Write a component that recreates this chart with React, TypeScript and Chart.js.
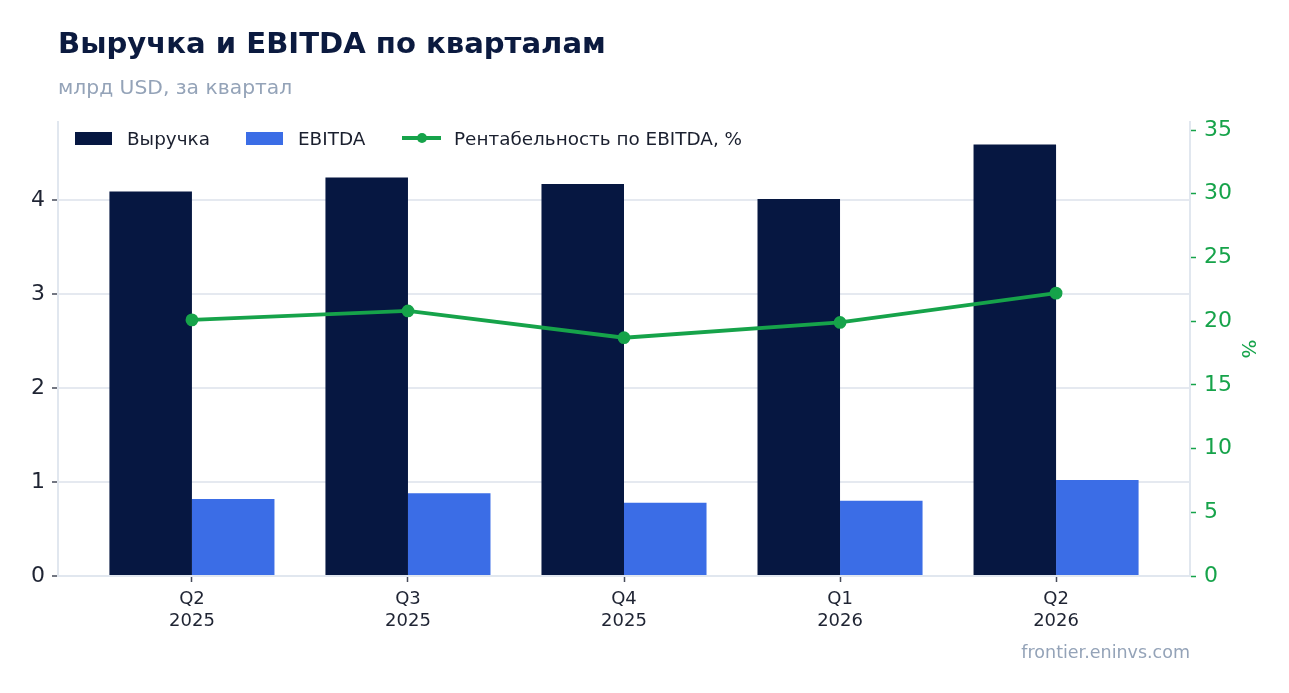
import React, { useEffect, useRef } from 'react';
import { Chart, registerables, ChartConfiguration } from 'chart.js';

Chart.register(...registerables);

const quarters: string[][] = [
    ['Q2', '2025'],
    ['Q3', '2025'],
    ['Q4', '2025'],
    ['Q1', '2026'],
    ['Q2', '2026'],
];
const revenue: number[] = [4.09, 4.24, 4.17, 4.01, 4.59];
const ebitda: number[] = [0.82, 0.88, 0.78, 0.8, 1.02];
const margin: number[] = [20.1, 20.8, 18.7, 19.9, 22.2];

const NAVY = '#061741';
const BLUE = '#3b6de6';
const GREEN = '#16a34a';
const FONT = "'DejaVu Sans', sans-serif";

const App: React.FC = () => {
    const chartRef = useRef<HTMLCanvasElement | null>(null);
    const chartInstance = useRef<Chart | null>(null);

    useEffect(() => {
        if (!chartRef.current) return;
        const ctx = chartRef.current.getContext('2d');
        if (!ctx) return;

        if (chartInstance.current) {
            chartInstance.current.destroy();
        }

        const config: ChartConfiguration = {
            type: 'bar',
            data: {
                datasets: [
                    {
                        type: 'line',
                        label: 'Рентабельность по EBITDA, %',
                        data: margin.map((v, i) => ({ x: i, y: v })),
                        yAxisID: 'y1',
                        borderColor: GREEN,
                        backgroundColor: GREEN,
                        borderWidth: 3.8,
                        pointRadius: 4.5,
                        pointHoverRadius: 4.5,
                        tension: 0,
                        order: 0,
                    },
                    {
                        type: 'bar',
                        label: 'Выручка',
                        data: revenue.map((v, i) => ({ x: i, y: v })),
                        yAxisID: 'y',
                        backgroundColor: NAVY,
                        borderWidth: 0,
                        categoryPercentage: 0.764,
                        barPercentage: 1,
                        order: 1,
                    },
                    {
                        type: 'bar',
                        label: 'EBITDA',
                        data: ebitda.map((v, i) => ({ x: i, y: v })),
                        yAxisID: 'y',
                        backgroundColor: BLUE,
                        borderWidth: 0,
                        categoryPercentage: 0.764,
                        barPercentage: 1,
                        order: 1,
                    },
                ] as any,
            },
            options: {
                animation: false,
                responsive: false,
                maintainAspectRatio: false,
                layout: { padding: { left: 0, top: 122, right: 0, bottom: 0 } },
                plugins: {
                    legend: { display: false },
                    tooltip: { enabled: false },
                },
                scales: {
                    x: {
                        type: 'linear',
                        min: -0.62,
                        max: 4.62,
                        offset: false,
                        afterBuildTicks: (scale: any) => {
                            scale.ticks = quarters.map((_, i) => ({ value: i }));
                        },
                        afterFit: (scale: any) => {
                            scale.height = 117;
                        },
                        ticks: {
                            callback: (value: any) => quarters[Number(value)] ?? '',
                            color: '#1f2433',
                            font: { family: FONT, size: 18, lineHeight: 1.22 },
                            padding: 6,
                            maxRotation: 0,
                        },
                        grid: {
                            offset: false,
                            drawOnChartArea: false,
                            drawTicks: true,
                            tickLength: 6,
                            tickColor: '#454a58',
                            tickWidth: 1.5,
                        },
                        border: { display: true, color: '#e1e7ef', width: 2 },
                    },
                    y: {
                        type: 'linear',
                        position: 'left',
                        min: 0,
                        max: 4.83,
                        afterFit: (scale: any) => {
                            scale.width = 58;
                        },
                        ticks: {
                            stepSize: 1,
                            includeBounds: false,
                            color: '#1f2433',
                            font: { family: FONT, size: 22 },
                            padding: 7,
                        },
                        grid: {
                            color: '#e5e9f0',
                            lineWidth: 2,
                            drawTicks: true,
                            tickLength: 6,
                            tickColor: '#454a58',
                            tickWidth: 1.5,
                        },
                        border: { display: true, color: '#e1e7ef', width: 2 },
                    },
                    y1: {
                        type: 'linear',
                        position: 'right',
                        min: 0,
                        max: 35.63,
                        afterFit: (scale: any) => {
                            scale.width = 99;
                        },
                        ticks: {
                            stepSize: 5,
                            includeBounds: false,
                            color: GREEN,
                            font: { family: FONT, size: 22 },
                            padding: 8,
                        },
                        grid: {
                            drawOnChartArea: false,
                            drawTicks: true,
                            tickLength: 6,
                            tickColor: GREEN,
                            tickWidth: 1.5,
                        },
                        border: { display: true, color: '#e1e7ef', width: 2 },
                        title: {
                            display: true,
                            text: '%',
                            color: GREEN,
                            font: { family: FONT, size: 20 },
                            padding: { top: 30, bottom: 0 },
                        },
                    },
                },
            },
        };

        chartInstance.current = new Chart(ctx, config);

        return () => {
            if (chartInstance.current) {
                chartInstance.current.destroy();
                chartInstance.current = null;
            }
        };
    }, []);

    const legendText: React.CSSProperties = {
        fontFamily: FONT,
        fontSize: 18.4,
        color: '#1a1f2e',
        whiteSpace: 'nowrap',
    };

    return (
        <div
            style={{
                position: 'fixed',
                left: 0,
                top: 0,
                width: 1289,
                height: 693,
                background: '#ffffff',
                fontFamily: FONT,
                overflow: 'hidden',
            }}
        >
            <canvas
                ref={chartRef}
                width={1289}
                height={693}
                style={{ position: 'absolute', left: 0, top: 0, width: 1289, height: 693 }}
            />
            <div
                style={{
                    position: 'absolute',
                    left: 58,
                    top: 26,
                    fontSize: 29.1,
                    fontWeight: 'bold',
                    color: '#0b1a3f',
                    whiteSpace: 'nowrap',
                }}
            >
                Выручка и EBITDA по кварталам
            </div>
            <div
                style={{
                    position: 'absolute',
                    left: 58,
                    top: 75,
                    fontSize: 20.3,
                    color: '#94a3b8',
                    whiteSpace: 'nowrap',
                }}
            >
                млрд USD, за квартал
            </div>

            <div style={{ position: 'absolute', left: 75, top: 127, display: 'flex', alignItems: 'center', height: 22 }}>
                <span style={{ display: 'inline-block', width: 37, height: 13, background: NAVY, marginRight: 15 }} />
                <span style={legendText}>Выручка</span>
            </div>
            <div style={{ position: 'absolute', left: 246, top: 127, display: 'flex', alignItems: 'center', height: 22 }}>
                <span style={{ display: 'inline-block', width: 37, height: 13, background: BLUE, marginRight: 15 }} />
                <span style={legendText}>EBITDA</span>
            </div>
            <div style={{ position: 'absolute', left: 402, top: 127, display: 'flex', alignItems: 'center', height: 22 }}>
                <span style={{ position: 'relative', display: 'inline-block', width: 39, height: 10, marginRight: 13 }}>
                    <span style={{ position: 'absolute', left: 0, top: 3.2, width: 39, height: 3.8, background: GREEN }} />
                    <span
                        style={{
                            position: 'absolute',
                            left: 14.5,
                            top: 0,
                            width: 10,
                            height: 10,
                            borderRadius: '50%',
                            background: GREEN,
                        }}
                    />
                </span>
                <span style={legendText}>Рентабельность по EBITDA, %</span>
            </div>

            <div
                style={{
                    position: 'absolute',
                    right: 1289 - 1190,
                    top: 642,
                    fontSize: 17.5,
                    color: '#94a3b8',
                    whiteSpace: 'nowrap',
                }}
            >
                frontier.eninvs.com
            </div>
        </div>
    );
};

export default App;
